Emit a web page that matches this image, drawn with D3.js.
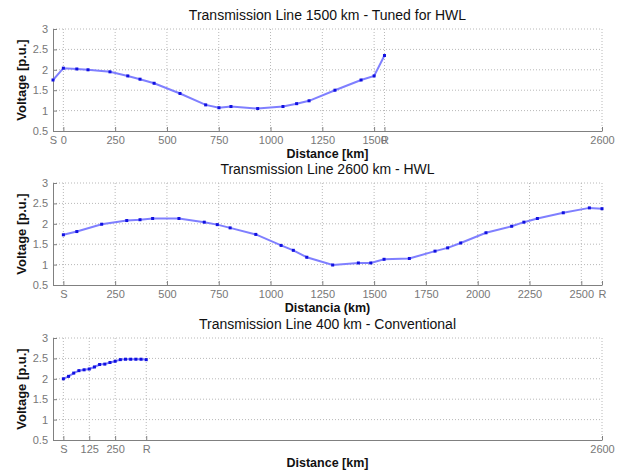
<!DOCTYPE html>
<html>
<head>
<meta charset="utf-8">
<script src="https://cdn.jsdelivr.net/npm/d3@7"></script>
<style>
	body{margin:0;background:#fff}
	svg{display:block}
	.tick text{fill:#777}
</style>
</head>
<body>
<svg id="fig" width="621" height="472"></svg>
<script>
// line 1500 km tuned
const top_km = [-50,0,65,119,225,311,370,438,563,687,751,809,938,1060,1126,1186,1311,1437,1500,1550]
const top_v = [1.75,2.04,2.02,2.0,1.95,1.85,1.77,1.67,1.42,1.14,1.07,1.10,1.05,1.10,1.17,1.24,1.5,1.75,1.85,2.35]
const top_ticks = [-50,0,250,500,750,1000,1250,1500,1550,2600]
const top_tick_labels = ['S','0','250','500','750','1000','1250','1500','R','2600']

// line 2600 km
const mid_km = [0,65,185,306,370,431,558,680,743,805,929,1051,1110,1175,1300,1424,1484,1548,1670,1794,1855,1918,2040,2164,2223,2288,2413,2539,2600]
const mid_v = [1.73,1.81,1.99,2.08,2.10,2.13,2.13,2.04,1.98,1.90,1.74,1.47,1.35,1.18,0.99,1.04,1.04,1.13,1.15,1.33,1.41,1.53,1.78,1.94,2.04,2.13,2.27,2.39,2.37]
const mid_ticks = [0,250,500,750,1000,1250,1500,1750,2000,2250,2500,2600]
const mid_tick_labels = ['S','250','500','750','1000','1250','1500','1750','2000','2250','2500','R']

// line 400 km conventional
const bot_km = [0,25,50,75,100,125,150,175,200,225,250,275,300,325,350,375,400]
const bot_v = [2.0,2.06,2.14,2.20,2.22,2.24,2.29,2.35,2.36,2.40,2.43,2.47,2.48,2.48,2.48,2.48,2.47]
const bot_ticks = [0,125,250,400,2600]
const bot_tick_labels = ['S','125','250','R','2600']

const y_ticks = [0.5,1,1.5,2,2.5,3]
const y_tick_labels = ['0.5','1','1.5','2','2.5','3']

const svg = d3.select('#fig')
	.attr('font-family','"Liberation Sans", Arial, sans-serif')

const xl = 53, xr = 602

const panel = (km,v,ticks,labels,title,xlabel,top,bottom)=>{
	const x = d3.scaleLinear().domain([-50,2600]).range([xl,xr])
	const y = d3.scaleLinear().domain([0.5,3]).range([bottom,top])
	const g = svg.append('g')

	// grid
	g.selectAll('.hg')
		.data(y_ticks.filter(d => d > 0.5))
		.enter()
		.append('line')
		.attr('x1',xl).attr('x2',xr)
		.attr('y1',d => y(d)).attr('y2',d => y(d))
		.attr('stroke','#b8b8b8')
		.attr('stroke-dasharray','1,2')
	g.selectAll('.vg')
		.data(ticks.filter(d => d > -50))
		.enter()
		.append('line')
		.attr('x1',d => x(d)).attr('x2',d => x(d))
		.attr('y1',top).attr('y2',bottom)
		.attr('stroke','#b8b8b8')
		.attr('stroke-dasharray','1,2')

	g.append('g')
		.attr('transform',`translate(0,${bottom})`)
		.call(d3.axisBottom(x)
			.tickValues(ticks)
			.tickFormat((d,i) => labels[i])
			.tickSizeInner(-4)
			.tickSizeOuter(0)
			.tickPadding(5))
	g.append('g')
		.attr('transform',`translate(${xl},0)`)
		.call(d3.axisLeft(y)
			.tickValues(y_ticks)
			.tickFormat((d,i) => y_tick_labels[i])
			.tickSizeInner(-4)
			.tickSizeOuter(0)
			.tickPadding(5))
	g.selectAll('.domain, .tick line').attr('stroke','#808080')
	g.selectAll('.tick text').attr('font-size','11px').attr('font-family','"Liberation Sans", Arial, sans-serif')

	const pts = km.map((d,i) => [d,v[i]])
	g.append('path')
		.datum(pts)
		.attr('fill','none')
		.attr('stroke','#7f7fff')
		.attr('stroke-width',2)
		.attr('d',d3.line().x(d => x(d[0])).y(d => y(d[1])))
	g.selectAll('.pt')
		.data(pts)
		.enter()
		.append('rect')
		.attr('x',d => x(d[0]) - 1.5)
		.attr('y',d => y(d[1]) - 1.5)
		.attr('width',3).attr('height',3)
		.attr('fill','#1010e0')

	g.append('text')
		.attr('x',(xl + xr) / 2)
		.attr('y',top - 9)
		.attr('text-anchor','middle')
		.attr('font-size','14px')
		.attr('fill','#111')
		.text(title)
	g.append('text')
		.attr('x',(xl + xr) / 2)
		.attr('y',bottom + 27)
		.attr('text-anchor','middle')
		.attr('font-size','12.5px')
		.attr('font-weight','bold')
		.attr('fill','#111')
		.text(xlabel)
	g.append('text')
		.attr('transform',`translate(26,${(top + bottom) / 2}) rotate(-90)`)
		.attr('text-anchor','middle')
		.attr('font-size','13px')
		.attr('font-weight','bold')
		.attr('fill','#111')
		.text('Voltage [p.u.]')
}

panel(top_km,top_v,top_ticks,top_tick_labels,'Transmission Line 1500 km - Tuned for HWL','Distance [km]',29,131)
panel(mid_km,mid_v,mid_ticks,mid_tick_labels,'Transmission Line 2600 km - HWL','Distancia (km)',183,285)
panel(bot_km,bot_v,bot_ticks,bot_tick_labels,'Transmission Line 400 km - Conventional','Distance [km]',338,440)
</script>
</body>
</html>
